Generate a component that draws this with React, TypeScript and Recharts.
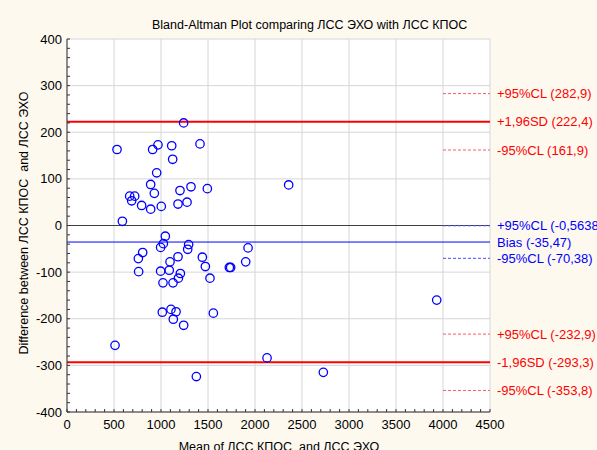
import React from "react";
import {
  ScatterChart,
  Scatter,
  XAxis,
  YAxis,
  CartesianGrid,
  ReferenceLine,
} from "recharts";

// mean of the two methods (x) and their difference (y)
const means = [
  532, 1241, 911, 968, 1114, 1415, 1124, 954, 890, 929, 667, 720, 688, 794,
  890, 1003, 1202, 1319, 1493, 1181, 1277, 589, 2358, 1046, 1025, 996, 1294,
  1284, 805, 759, 1181, 1440, 1096, 1472, 1727, 1741, 1901, 1926, 762, 996,
  1088, 1206, 1185, 1021, 1128, 1521, 1014, 1106, 1160, 1131, 1241, 1557, 511,
  2128, 1376, 2727, 3933,
];
const diffs = [
  163, 220, 163, 173, 171, 175, 142, 113, 88, 69, 63, 63, 53, 43, 35, 41, 75,
  83, 79, 46, 50, 9, 87, -23, -39, -47, -41, -51, -58, -71, -67, -68, -78, -88,
  -90, -90, -78, -48, -99, -98, -96, -103, -113, -123, -123, -113, -186, -180,
  -185, -201, -214, -188, -257, -284, -324, -315, -160,
];

const xMajorTicks = [0, 500, 1000, 1500, 2000, 2500, 3000, 3500, 4000, 4500];
const yMajorTicks = [-400, -300, -200, -100, 0, 100, 200, 300, 400];

// limits of agreement and their confidence limits
const sdLines = [
  { y: 222.4, label: "+1,96SD (222,4)" },
  { y: -293.3, label: "-1,96SD (-293,3)" },
];
const bias = { y: -35.47, label: "Bias (-35,47)" };
const clRed = [
  { y: 282.9, label: "+95%CL (282,9)" },
  { y: 161.9, label: "-95%CL (161,9)" },
  { y: -232.9, label: "+95%CL (-232,9)" },
  { y: -353.8, label: "-95%CL (-353,8)" },
];
const clBlue = [
  { y: -0.5638, label: "+95%CL (-0,5638)" },
  { y: -70.38, label: "-95%CL (-70,38)" },
];
const clFrom = 4000;
const clTo = 4500;

const data = means.map((m, i) => ({ mean: m, diff: diffs[i] }));

const xMinor: number[] = [];
for (let v = 0; v <= 4500; v += 100) xMinor.push(v);
const yMinor: number[] = [];
for (let v = -400; v <= 400; v += 20) yMinor.push(v);

const FONT = "Arial, 'Liberation Sans', sans-serif";
const RED = "#ff0000";
const BLUE = "#0000ff";
const FRAME = "#333333";

const Ring = (props: any) => (
  <circle
    cx={props.cx}
    cy={props.cy}
    r={4.2}
    fill="none"
    stroke={BLUE}
    strokeWidth={1.3}
  />
);

const sideLabel = (text: string, color: string) => ({
  value: text,
  position: "right" as const,
  offset: 7,
  fill: color,
  fontSize: 13,
  fontFamily: FONT,
});

export default function App() {
  return (
    <div
      style={{
        position: "absolute",
        left: 0,
        top: 0,
        width: 597,
        height: 450,
        background: "#fdf9ef",
      }}
    >
      <ScatterChart
        width={597}
        height={450}
        margin={{ top: 39, right: 107, bottom: 0, left: 0 }}
        style={{ fontFamily: FONT }}
      >
        <CartesianGrid
          fill="#ffffff"
          fillOpacity={1}
          stroke="#d6d6d6"
          verticalValues={xMajorTicks}
          horizontalValues={yMajorTicks}
        />
        <XAxis
          type="number"
          dataKey="mean"
          domain={[0, 4500]}
          allowDataOverflow
          ticks={xMinor}
          interval={0}
          height={38}
          tickSize={-3}
          tickMargin={11}
          tickFormatter={(v: number) => (v % 500 === 0 ? String(v) : "")}
          tick={{ fill: "#000", fontSize: 13 }}
          axisLine={{ stroke: FRAME }}
          tickLine={{ stroke: FRAME }}
        />
        <XAxis
          xAxisId="top"
          orientation="top"
          type="number"
          domain={[0, 4500]}
          allowDataOverflow
          ticks={xMinor}
          interval={0}
          height={0}
          tickSize={-3}
          tick={false}
          axisLine={{ stroke: FRAME }}
          tickLine={{ stroke: FRAME }}
        />
        <YAxis
          type="number"
          dataKey="diff"
          domain={[-400, 400]}
          allowDataOverflow
          ticks={yMinor}
          interval={0}
          width={67}
          tickSize={-3}
          tickMargin={8}
          tickFormatter={(v: number) => (v % 100 === 0 ? String(v) : "")}
          tick={{ fill: "#000", fontSize: 13 }}
          axisLine={{ stroke: FRAME }}
          tickLine={{ stroke: FRAME }}
        />
        <YAxis
          yAxisId="right"
          orientation="right"
          type="number"
          domain={[-400, 400]}
          allowDataOverflow
          ticks={yMinor}
          interval={0}
          width={0}
          tickSize={-3}
          tick={false}
          axisLine={{ stroke: FRAME }}
          tickLine={{ stroke: FRAME }}
        />
        <ReferenceLine y={0} stroke="#404040" strokeWidth={1} />
        {sdLines.map((l) => (
          <ReferenceLine
            key={l.label}
            y={l.y}
            stroke={RED}
            strokeWidth={2}
            label={sideLabel(l.label, RED)}
          />
        ))}
        <ReferenceLine
          y={bias.y}
          stroke={BLUE}
          strokeWidth={1}
          label={sideLabel(bias.label, BLUE)}
        />
        {clRed.map((l) => (
          <ReferenceLine
            key={l.label}
            segment={[
              { x: clFrom, y: l.y },
              { x: clTo, y: l.y },
            ]}
            stroke="#ff5a5a"
            strokeDasharray="3 2"
            strokeWidth={1}
            label={sideLabel(l.label, RED)}
          />
        ))}
        {clBlue.map((l) => (
          <ReferenceLine
            key={l.label}
            segment={[
              { x: clFrom, y: l.y },
              { x: clTo, y: l.y },
            ]}
            stroke="#4a4aff"
            strokeDasharray="3 2"
            strokeWidth={1}
            label={sideLabel(l.label, BLUE)}
          />
        ))}
        <Scatter data={data} shape={Ring} isAnimationActive={false} />
        <text x={152} y={29} fontSize={12.5} fill="#000" fontFamily={FONT}>
          Bland-Altman Plot comparing ЛСС ЭХО with ЛСС КПОС
        </text>
        <text
          x={279}
          y={451}
          fontSize={12.5}
          fill="#000"
          textAnchor="middle"
          fontFamily={FONT}
          style={{ whiteSpace: "pre" }}
        >
          {"Mean of ЛСС КПОС  and ЛСС ЭХО"}
        </text>
        <text
          x={28}
          y={223}
          fontSize={12.5}
          fill="#000"
          textAnchor="middle"
          fontFamily={FONT}
          transform="rotate(-90 28 223)"
          style={{ whiteSpace: "pre" }}
        >
          {"Difference between ЛСС КПОС  and ЛСС ЭХО"}
        </text>
      </ScatterChart>
    </div>
  );
}
